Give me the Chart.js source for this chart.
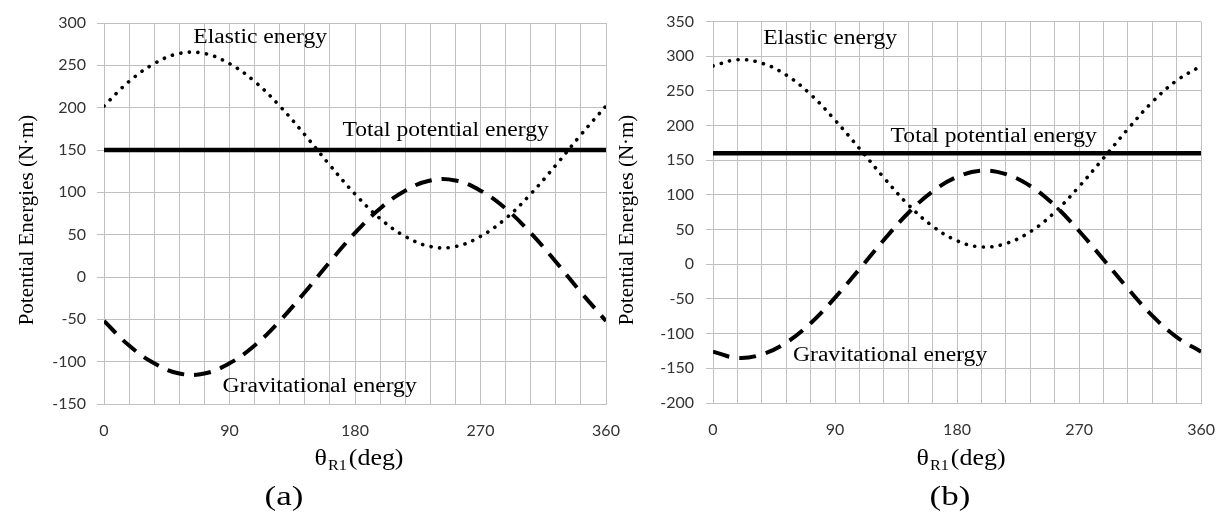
<!DOCTYPE html>
<html>
<head>
<meta charset="utf-8">
<script src="https://cdn.jsdelivr.net/npm/chart.js@4.4.0/dist/chart.umd.min.js"></script>
<style>
  body { margin: 0; background: #fff; width: 1232px; height: 518px; overflow: hidden; position: relative; }
  .box { position: absolute; top: 0; height: 518px; }
</style>
</head>
<body>
<div class="box" style="left:0;width:640px"><canvas id="chartA" width="640" height="518"></canvas></div>
<div class="box" style="left:616px;width:616px"><canvas id="chartB" width="616" height="518"></canvas></div>
<script>
// angle of the crank, deg
const degrees = [0, 18, 36, 54, 72, 90, 108, 126, 144, 162, 180, 198, 216, 234, 252, 270, 288, 306, 324, 342, 360];

// (a)
const elasticA = [202, 231, 252, 264, 264, 252, 231, 202, 168, 132, 98, 69, 48, 36, 36, 48, 69, 98, 132, 168, 202];
const gravityA = [-52, -81, -102, -114, -114, -102, -81, -52, -18, 18, 52, 81, 102, 114, 114, 102, 81, 52, 18, -18, -52];
const totalA = [150, 150, 150, 150, 150, 150, 150, 150, 150, 150, 150, 150, 150, 150, 150, 150, 150, 150, 150, 150, 150];

// (b)
const elasticB = [286, 295, 290, 273, 245, 208, 167, 125, 86, 55, 34, 25, 30, 47, 75, 112, 153, 195, 234, 265, 286];
const gravityB = [-126, -135, -130, -113, -85, -48, -7, 35, 74, 105, 126, 135, 130, 113, 85, 48, 7, -35, -74, -105, -126];
const totalB = [160, 160, 160, 160, 160, 160, 160, 160, 160, 160, 160, 160, 160, 160, 160, 160, 160, 160, 160, 160, 160];

const gridColor = "#c0c0c0";
const serif = '"Liberation Serif", "Times New Roman", serif';

function points(values) {
	return degrees.map((d, i) => ({ x: d, y: values[i] }));
}

// text drawn a bit wider than the font, like the original figure
function wideText(ctx, text, x, y, stretch) {
	ctx.save();
	ctx.translate(x, y);
	ctx.scale(stretch, 1);
	ctx.fillText(text, 0, 0);
	ctx.restore();
}

// draws the curve labels, axis titles and the panel letter
const notesPlugin = {
	id: "notes",
	afterDraw(chart, args, opts) {
		const ctx = chart.ctx;
		const xs = chart.scales.x;
		const ys = chart.scales.y;
		const area = chart.chartArea;
		ctx.save();
		ctx.fillStyle = "#000";

		ctx.font = "20px " + serif;
		ctx.textAlign = "left";
		ctx.textBaseline = "middle";
		opts.labels.forEach((n) => {
			wideText(ctx, n.text, xs.getPixelForValue(n.x), ys.getPixelForValue(n.y), 1.18);
		});

		// x title with subscript
		const st = 1.08;
		const cx = (area.left + area.right) / 2 + 4;
		ctx.textBaseline = "alphabetic";
		ctx.font = "24px " + serif;
		const wT = ctx.measureText("\u03b8").width * st;
		const wD = ctx.measureText("(deg)").width * st;
		ctx.font = "15px " + serif;
		const wS = ctx.measureText("R1").width * st;
		const x0 = cx - (wT + wS + wD + 3) / 2;
		ctx.font = "24px " + serif;
		wideText(ctx, "\u03b8", x0, 465, st);
		ctx.font = "15px " + serif;
		wideText(ctx, "R1", x0 + wT + 1, 470, st);
		ctx.font = "24px " + serif;
		wideText(ctx, "(deg)", x0 + wT + wS + 3, 465, st);

		// y title
		ctx.save();
		ctx.translate(opts.yTitleX, 220);
		ctx.rotate(-Math.PI / 2);
		ctx.font = "21px " + serif;
		ctx.textAlign = "center";
		ctx.fillText("Potential Energies (N\u00b7m)", 0, 0);
		ctx.restore();

		ctx.font = "28px " + serif;
		ctx.textAlign = "center";
		ctx.textBaseline = "middle";
		wideText(ctx, opts.panel, opts.panelX, 498, 1.25);
		ctx.restore();
	},
};

function createChart(id, cfg) {
	const tickFont = { family: "Lato", size: 16 };
	return new Chart(document.getElementById(id), {
		type: "line",
		data: {
			datasets: [
				{
					data: points(cfg.elastic),
					borderColor: "#000",
					borderWidth: 3.6,
					borderDash: [0.1, 8.5],
					borderCapStyle: "round",
					pointRadius: 0,
					tension: 0.4,
					fill: false,
				},
				{
					data: points(cfg.gravity),
					borderColor: "#000",
					borderWidth: 4,
					borderDash: [17, 10],
					pointRadius: 0,
					tension: 0.4,
					fill: false,
				},
				{
					data: points(cfg.total),
					borderColor: "#000",
					borderWidth: 4.5,
					pointRadius: 0,
					fill: false,
				},
			],
		},
		options: {
			responsive: false,
			animation: false,
			devicePixelRatio: 1,
			layout: { padding: { left: 0, right: cfg.padRight, top: cfg.padTop, bottom: 0 } },
			plugins: {
				legend: { display: false },
				tooltip: { enabled: false },
				notes: { labels: cfg.labels, yTitleX: cfg.yTitleX, panel: cfg.panel, panelX: cfg.panelX },
			},
			scales: {
				x: {
					type: "linear",
					min: 0,
					max: 360,
					afterFit: (s) => { s.height = cfg.xHeight; },
					ticks: {
						stepSize: 18,
						autoSkip: false,
						maxRotation: 0,
						padding: 17,
						font: tickFont,
						color: "#333",
						callback: (v) => (v % 90 === 0 ? v : ""),
					},
					grid: { color: gridColor, drawTicks: false },
					border: { color: gridColor },
				},
				y: {
					min: cfg.yMin,
					max: cfg.yMax,
					afterFit: (s) => { s.width = cfg.yWidth; },
					ticks: { stepSize: 50, padding: cfg.yPad, font: tickFont, color: "#333" },
					grid: { color: gridColor, tickLength: 7 },
					border: { color: gridColor },
				},
			},
		},
		plugins: [notesPlugin],
	});
}

createChart("chartA", {
	elastic: elasticA,
	gravity: gravityA,
	total: totalA,
	yMin: -150,
	yMax: 300,
	yWidth: 104,
	yPad: 11,
	padTop: 23,
	padRight: 34,
	xHeight: 114,
	yTitleX: 33,
	panel: "(a)",
	panelX: 284,
	labels: [
		{ text: "Elastic energy", x: 64, y: 283 },
		{ text: "Total potential energy", x: 171, y: 173 },
		{ text: "Gravitational energy", x: 85, y: -130 },
	],
});

createChart("chartB", {
	elastic: elasticB,
	gravity: gravityB,
	total: totalB,
	yMin: -200,
	yMax: 350,
	yWidth: 97,
	yPad: 12,
	padTop: 20.5,
	padRight: 18,
	xHeight: 115,
	yTitleX: 17,
	panel: "(b)",
	panelX: 334,
	labels: [
		{ text: "Elastic energy", x: 37, y: 325 },
		{ text: "Total potential energy", x: 131, y: 184 },
		{ text: "Gravitational energy", x: 59, y: -132 },
	],
});
</script>
</body>
</html>
